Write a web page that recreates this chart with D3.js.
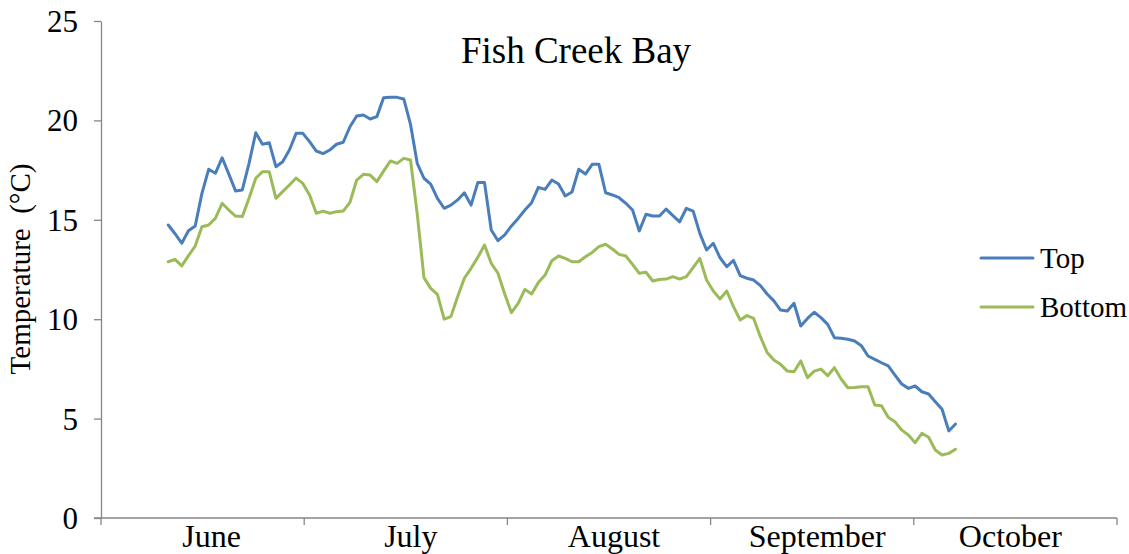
<!DOCTYPE html>
<html>
<head>
<meta charset="utf-8">
<script src="https://cdn.jsdelivr.net/npm/d3@7"></script>
<style>
  body { margin: 0; background: #fff; }
  svg { display: block; }
  text { font-family: "Liberation Serif", "Times New Roman", serif; fill: #000; }
</style>
</head>
<body>
<svg id="chart" width="1129" height="554"></svg>
<script>
// ---- data ----
const months = ["June", "July", "August", "September", "October"];
const yTicks = [0, 5, 10, 15, 20, 25];
const startDay = 10; // first reading: day index along the axis
const seriesNames = ["Top", "Bottom"];
const topTemp = [
  14.74, 14.3, 13.82, 14.45, 14.69, 16.33, 17.54, 17.34, 18.12, 17.3,
  16.45, 16.5, 17.84, 19.38, 18.8, 18.88, 17.67, 17.92, 18.51, 19.35,
  19.35, 18.93, 18.46, 18.33, 18.51, 18.8, 18.9, 19.68, 20.22, 20.27,
  20.07, 20.19, 21.14, 21.16, 21.16, 21.08, 19.8, 17.84, 17.09, 16.8,
  16.08, 15.58, 15.74, 16.0, 16.36, 15.74, 16.87, 16.87, 14.49, 13.95,
  14.24, 14.69, 15.07, 15.49, 15.86, 16.63, 16.53, 17.0, 16.8, 16.2,
  16.4, 17.54, 17.3, 17.79, 17.79, 16.36, 16.25, 16.11, 15.83, 15.49,
  14.44, 15.28, 15.19, 15.19, 15.54, 15.21, 14.9, 15.58, 15.44, 14.32,
  13.48, 13.82, 13.09, 12.64, 12.96, 12.19, 12.06, 11.97, 11.69, 11.27,
  10.92, 10.46, 10.41, 10.8, 9.66, 10.04, 10.35, 10.08, 9.74, 9.07,
  9.04, 8.99, 8.9, 8.67, 8.15, 7.98, 7.81, 7.65, 7.19, 6.74,
  6.52, 6.64, 6.35, 6.24, 5.85, 5.47, 4.38, 4.73
];
const bottomTemp = [
  12.89, 13.01, 12.68, 13.2, 13.68, 14.65, 14.74, 15.07, 15.83, 15.49,
  15.19, 15.16, 16.08, 17.09, 17.42, 17.42, 16.08, 16.42, 16.75, 17.1,
  16.83, 16.25, 15.33, 15.44, 15.33, 15.41, 15.44, 15.88, 17.0, 17.29,
  17.25, 16.92, 17.45, 17.96, 17.84, 18.09, 18.01, 15.3, 12.09, 11.55,
  11.25, 10.0, 10.13, 11.13, 12.06, 12.56, 13.11, 13.73, 12.81, 12.31,
  11.27, 10.33, 10.8, 11.5, 11.27, 11.84, 12.22, 12.94, 13.18, 13.06,
  12.89, 12.89, 13.14, 13.36, 13.65, 13.77, 13.53, 13.26, 13.18, 12.76,
  12.31, 12.36, 11.92, 12.0, 12.02, 12.14, 12.02, 12.14, 12.59, 13.06,
  11.97, 11.42, 11.02, 11.42, 10.63, 9.96, 10.18, 10.04, 9.12, 8.33,
  7.95, 7.73, 7.39, 7.36, 7.9, 7.06, 7.39, 7.49, 7.16, 7.56,
  6.99, 6.55, 6.57, 6.6, 6.6, 5.68, 5.65, 5.07, 4.84, 4.43,
  4.17, 3.79, 4.26, 4.06, 3.42, 3.17, 3.25, 3.46
];
const totalDays = 151;

// ---- layout ----
const svg = d3.select("#chart");
const plotLeft = 101, plotRight = 1117, plotTop = 21, plotBottom = 518;
const axisColor = "#868686";
const colors = { Top: "#4A7EBB", Bottom: "#9BBB59" };

const x = d3.scaleLinear().domain([0, totalDays]).range([plotLeft, plotRight]);
const xBand = d3.scaleBand().domain(months).range([plotLeft, plotRight]).paddingInner(0).paddingOuter(0);
const y = d3.scaleLinear().domain([0, 25]).range([plotBottom, plotTop]);

// y axis
const yAxis = svg.append("g")
  .attr("transform", `translate(${plotLeft},0)`)
  .call(d3.axisLeft(y).tickValues(yTicks).tickSize(7).tickPadding(16).tickSizeOuter(0));
yAxis.select(".domain").attr("stroke", axisColor).attr("stroke-width", 1.3);
yAxis.selectAll(".tick line").attr("stroke", axisColor).attr("stroke-width", 1.3);
yAxis.selectAll(".tick text")
  .style("font-family", "'Liberation Serif', serif")
  .style("font-size", "31px").attr("fill", "#000").attr("dy", "0.34em");

// x axis
const xAxisG = svg.append("g").attr("transform", `translate(0,${plotBottom})`);
xAxisG.append("line")
  .attr("x1", plotLeft - 7).attr("x2", plotRight)
  .attr("y1", 0).attr("y2", 0)
  .attr("stroke", axisColor).attr("stroke-width", 1.3);
const bounds = months.map(m => xBand(m)).concat([plotRight]);
xAxisG.selectAll("line.tick").data(bounds).join("line")
  .attr("class", "tick")
  .attr("x1", d => d).attr("x2", d => d)
  .attr("y1", 0).attr("y2", 7)
  .attr("stroke", axisColor).attr("stroke-width", 1.3);
xAxisG.selectAll("text.lbl").data(months).join("text")
  .attr("class", "lbl")
  .attr("x", (d, i) => xBand(d) + xBand.bandwidth() / 2 + (i === 0 ? 9 : i === months.length - 1 ? -5 : 5))
  .attr("y", 29)
  .attr("text-anchor", "middle")
  .style("font-size", "32px")
  .text(d => d);

// lines
const line = d3.line()
  .x((d, i) => x(startDay + i))
  .y(d => y(d));
const series = [
  { name: "Top", values: topTemp },
  { name: "Bottom", values: bottomTemp }
];
svg.append("g").selectAll("path").data(series).join("path")
  .attr("d", d => line(d.values))
  .attr("fill", "none")
  .attr("stroke", d => colors[d.name])
  .attr("stroke-width", 3)
  .attr("stroke-linejoin", "round")
  .attr("stroke-linecap", "round");

// title
svg.append("text")
  .attr("x", 576).attr("y", 63)
  .attr("text-anchor", "middle")
  .style("font-size", "37px")
  .text("Fish Creek Bay");

// y label
svg.append("text")
  .attr("transform", "translate(30,269) rotate(-90)")
  .attr("text-anchor", "middle")
  .style("font-size", "29px")
  .style("white-space", "pre")
  .text("Temperature  (°C)");

// legend
const legend = svg.append("g").selectAll("g").data(seriesNames).join("g")
  .attr("transform", (d, i) => `translate(981,${258 + i * 49})`);
legend.append("line")
  .attr("x1", 0).attr("x2", 52).attr("y1", 0).attr("y2", 0)
  .attr("stroke", d => colors[d]).attr("stroke-width", 3)
  .attr("stroke-linecap", "round");
legend.append("text")
  .attr("x", 59).attr("y", 0).attr("dy", "0.35em")
  .style("font-size", "29px")
  .text(d => d);
</script>
</body>
</html>
